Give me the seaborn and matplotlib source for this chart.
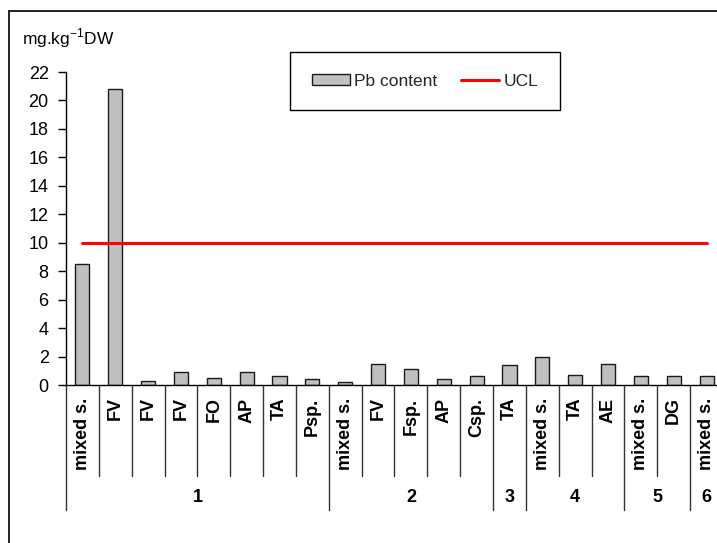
import numpy as np
import pandas as pd
import matplotlib
matplotlib.use("Agg")
import matplotlib.pyplot as plt
import seaborn as sns
from matplotlib.patches import Patch
from matplotlib.lines import Line2D

# Pb content per sample, grouped by sampling site
species = ["mixed s.", "FV", "FV", "FV", "FO", "AP", "TA", "Psp.",
           "mixed s.", "FV", "Fsp.", "AP", "Csp.",
           "TA",
           "mixed s.", "TA", "AE",
           "mixed s.", "DG",
           "mixed s."]
pb_content = [8.5, 20.8, 0.3, 0.9, 0.5, 0.9, 0.6, 0.4,
              0.2, 1.5, 1.1, 0.4, 0.6,
              1.4,
              2.0, 0.7, 1.5,
              0.6, 0.6,
              0.6]
sites = ["1", "2", "3", "4", "5", "6"]
site_sizes = [8, 5, 1, 3, 2, 1]
ucl = 10
y_ticks = list(range(0, 23, 2))

sns.set_theme(style="white")
plt.rcParams["font.family"] = ["Liberation Sans", "DejaVu Sans"]
plt.rcParams["mathtext.fontset"] = "custom"
plt.rcParams["mathtext.rm"] = "Liberation Sans"

W, H = 717, 543
fig = plt.figure(figsize=(W / 100, H / 100), dpi=100)
fig.patch.set_facecolor("white")

# axes in pixel terms: x from 66 to 723, y from 72 (top, =22) to 385 (=0)
ax = fig.add_axes([66 / W, (H - 385) / H, (723 - 66) / W, (385 - 72) / H])
ax.set_facecolor("white")

n = len(species)
df = pd.DataFrame({"slot": [str(i) for i in range(n)],
                   "species": species,
                   "pb": pb_content})

sns.barplot(data=df, x="slot", y="pb", order=list(df["slot"]),
            color="#c0c0c0", saturation=1, edgecolor="#1a1a1a",
            linewidth=1.0, width=0.43, ax=ax)

# upper control limit, spanning the first to the last sample
ax.plot(np.arange(n), [ucl] * n, color="#ff0000", lw=2.2, zorder=3)

ax.set_xlim(-0.5, n - 0.5)
ax.set_ylim(0, 22)
ax.set_yticks(y_ticks)
ax.set_yticklabels([str(t) for t in y_ticks], fontsize=13, color="black")
ax.set_xticks([])
ax.set_xlabel("")
ax.set_ylabel("")
ax.tick_params(axis="y", direction="out", length=5.5, width=1.0,
               color="black", pad=7, left=True)

for s in ["top", "right"]:
    ax.spines[s].set_visible(False)
for s in ["left", "bottom"]:
    ax.spines[s].set_color("black")
    ax.spines[s].set_linewidth(1.0)

# species labels, rotated under each bar
for i, lab in enumerate(species):
    ax.annotate(lab, xy=(i, 0), xycoords=("data", "axes fraction"),
                xytext=(0, -9), textcoords="offset points",
                rotation=90, ha="center", va="top",
                fontsize=13, fontweight="bold", color="black",
                annotation_clip=False)

ax_h = 385 - 72
short_drop = -(476 - 385) / ax_h
long_drop = -(510 - 385) / ax_h
label_y = -(498 - 385) / ax_h
trans = ax.get_xaxis_transform()

# boundaries between samples and between sites
edges = np.cumsum([0] + site_sizes)
group_edges = set(edges.tolist())
for b in range(n):
    x = b - 0.5
    y_end = long_drop if b in group_edges else short_drop
    ax.plot([x, x], [0, y_end], transform=trans, color="#333333",
            lw=1.0, clip_on=False)

for k, name in enumerate(sites):
    center = (edges[k] + edges[k + 1]) / 2 - 0.5
    ax.text(center, label_y, name, transform=trans, ha="center",
            va="center", fontsize=13, fontweight="bold", color="black")

# unit label above the axis
fig.text(22 / W, 1 - 38 / H, r"mg.kg$^{\mathregular{-1}}$DW",
         ha="left", va="center", fontsize=12.5, color="black")

handles = [Patch(facecolor="#c0c0c0", edgecolor="#1a1a1a", lw=1.0,
                 label="Pb content"),
           Line2D([], [], color="#ff0000", lw=2.2, label="UCL")]
leg = ax.legend(handles=handles, ncol=2, loc="upper left",
                bbox_to_anchor=(290 / W, 1 - 52 / H),
                bbox_transform=fig.transFigure, frameon=True,
                fancybox=False, edgecolor="black", framealpha=1,
                borderpad=1.25, borderaxespad=0, handlelength=2.2,
                handleheight=0.6, handletextpad=0.25, columnspacing=1.35,
                fontsize=12.5)
leg.get_frame().set_linewidth(1.0)

# outer frame of the chart area
fig.add_artist(Line2D([9 / W, 1.0], [1 - 11 / H, 1 - 11 / H],
                      transform=fig.transFigure, color="#222222", lw=1.4))
fig.add_artist(Line2D([9 / W, 9 / W], [0.0, 1 - 11 / H],
                      transform=fig.transFigure, color="#222222", lw=1.4))

fig.savefig("out.png", dpi=100, facecolor="white")
